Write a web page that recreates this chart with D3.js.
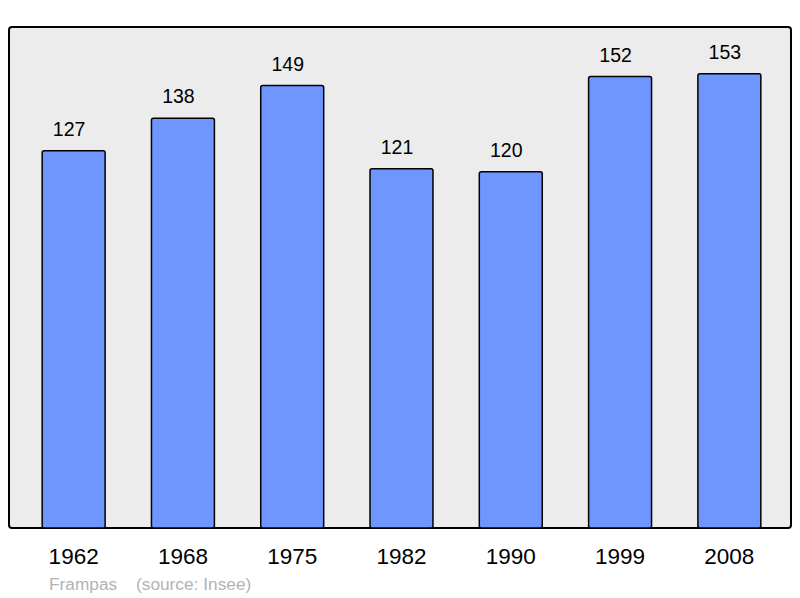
<!DOCTYPE html>
<html><head><meta charset="utf-8">
<script src="https://cdn.jsdelivr.net/npm/d3@7"></script>
<style>body{margin:0;background:#fff}svg{display:block}text{font-family:"Liberation Sans",Arial,sans-serif}</style>
</head><body>
<script>
const years = ["1962","1968","1975","1982","1990","1999","2008"];
const population = [127,138,149,121,120,152,153];
const placeName = "Frampas";
const sourceText = "(source: Insee)";

const W=800,H=598;
const svg=d3.select("body").append("svg").attr("width",W).attr("height",H);
const panel={x0:9,y0:27,x1:791,y1:528};
svg.append("rect").attr("x",panel.x0).attr("y",panel.y0).attr("width",panel.x1-panel.x0).attr("height",panel.y1-panel.y0)
  .attr("rx",3).attr("fill","#ececec").attr("stroke","#000").attr("stroke-width",2);

const x=d3.scaleBand().domain(years).range([19,784]).paddingInner(0.424).paddingOuter(0.212);
const y=d3.scaleLinear().domain([0,168.7]).range([panel.y1,panel.y0]);

svg.selectAll("rect.bar").data(years).enter().append("rect").attr("class","bar")
  .attr("x",d=>x(d)).attr("width",x.bandwidth())
  .attr("y",(d,i)=>y(population[i])).attr("height",(d,i)=>panel.y1-y(population[i]))
  .attr("rx",2).attr("fill","#6f96ff").attr("stroke","#000").attr("stroke-width",1.5);

svg.selectAll("text.val").data(years).enter().append("text").attr("class","val")
  .attr("x",d=>x(d)+x.bandwidth()/2-4.5).attr("y",(d,i)=>y(population[i])-15)
  .attr("text-anchor","middle").attr("font-size",19.5).attr("fill","#000")
  .text((d,i)=>population[i]);

const xAxis=svg.append("g").attr("transform",`translate(0,${panel.y1})`)
  .call(d3.axisBottom(x).tickSize(0).tickPadding(0));
xAxis.select(".domain").remove();
xAxis.selectAll("text").attr("font-size",22.5).attr("fill","#000").attr("dy",null).attr("y",36)
  .style("font-family",'"Liberation Sans",Arial,sans-serif');

svg.append("text").attr("x",49).attr("y",590).attr("font-size",17.3).attr("fill","#b3b3b3")
  .text(placeName);
svg.append("text").attr("x",136).attr("y",590).attr("font-size",17.3).attr("fill","#b3b3b3")
  .text(sourceText);
</script>
</body></html>
